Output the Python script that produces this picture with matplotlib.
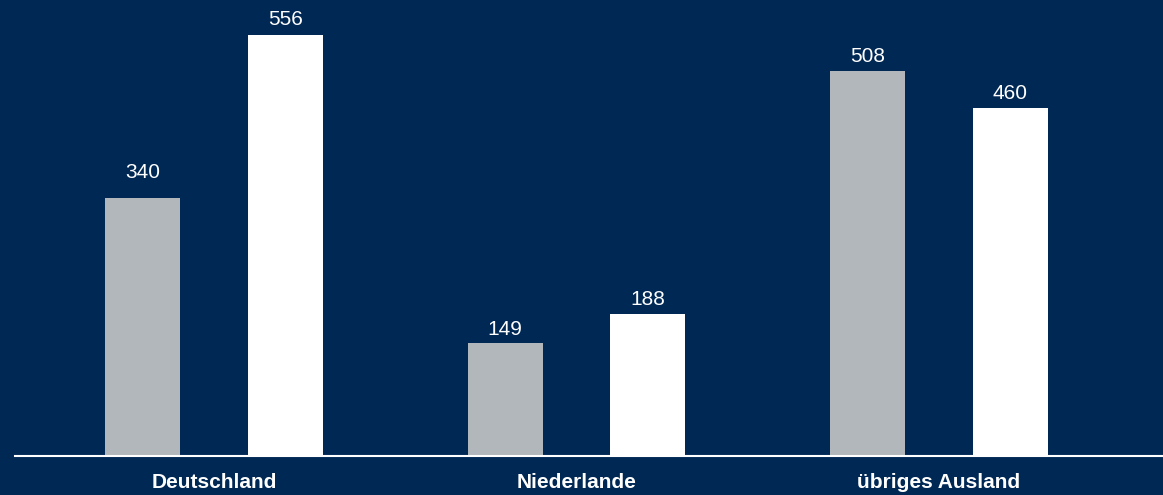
import numpy as np
import matplotlib.pyplot as plt

plt.rcParams['font.family'] = ['Liberation Sans', 'DejaVu Sans']

# Umsatz nach Regionen, Vorjahr (grau) und aktuelles Jahr (weiss)
regionen = ['Deutschland', 'Niederlande', 'übriges Ausland']
vorjahr = [340, 149, 508]
aktuell = [556, 188, 460]

bg = '#002855'
grau = '#B1B7BA'

fig = plt.figure(figsize=(11.63, 4.95), dpi=100, facecolor=bg)
ax = fig.add_axes([15/1163, 39/495, 1 - 15/1163, 456/495])
ax.set_facecolor(bg)

x = np.arange(len(regionen))
w = 0.207
off = 0.197
b1 = ax.bar(x - off, vorjahr, width=w, color=grau)
b2 = ax.bar(x + off, aktuell, width=w, color='white')

# Abstand der Wertebeschriftung ueber dem Balken (Pixel)
abstand1 = [16, 4, 5]
abstand2 = [6, 5, 5]

for bars, abst in ((b1, abstand1), (b2, abstand2)):
    for rect, d in zip(bars, abst):
        h = rect.get_height()
        ax.annotate(f'{h:.0f}', (rect.get_x() + rect.get_width()/2, h),
                    xytext=(0, d), textcoords='offset pixels',
                    ha='center', va='bottom', color='white', fontsize=15)

ax.set_xlim(-0.549, 2.618)
ax.set_ylim(0, 602)
ax.set_yticks([])
ax.set_xticks(x)
ax.set_xticklabels(regionen, fontsize=15, fontweight='bold', color='white')
ax.tick_params(axis='x', length=0, pad=12.5)
for s in ['top', 'right', 'left']:
    ax.spines[s].set_visible(False)
ax.spines['bottom'].set_color('white')
ax.spines['bottom'].set_linewidth(1.5)

fig.savefig('out.png', facecolor=bg)
